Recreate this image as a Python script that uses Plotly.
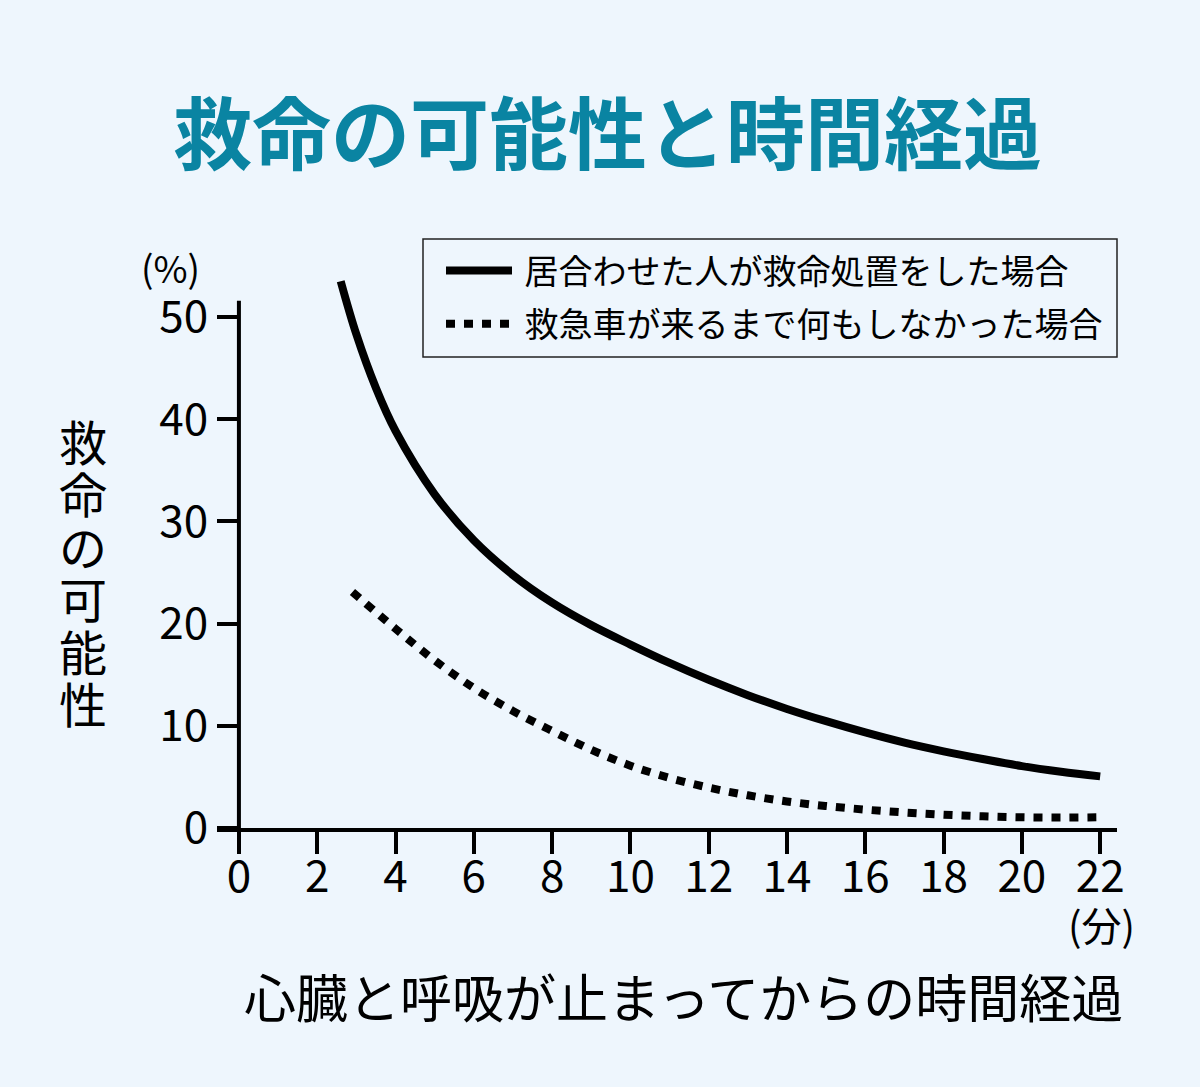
import plotly.graph_objects as go

# 心肺停止からの経過時間(分)と救命の可能性(%)
bystander_min = [2.6, 3, 3.5, 4, 5, 6, 7, 8, 9, 10, 11, 12, 13, 14, 15, 16, 17, 18, 19, 20, 21, 22]
bystander_pct = [53.5, 48.3, 43.05, 38.85, 32.65, 28.15, 24.75, 22.05, 19.85, 17.95, 16.15, 14.5,
                 13.0, 11.65, 10.45, 9.35, 8.35, 7.5, 6.75, 6.05, 5.5, 5.05]
nothing_min = [2.9, 4, 5, 6, 7, 8, 9, 10, 11, 12, 13, 14, 15, 16, 17, 18, 19, 20, 21, 22]
nothing_pct = [23.1, 19.5, 16.4, 13.7, 11.45, 9.5, 7.65, 6.1, 4.9, 3.95, 3.2, 2.6, 2.15, 1.8, 1.52,
               1.3, 1.15, 1.05, 1.02, 1.05]

x_ticks = list(range(0, 23, 2))
y_ticks = [0, 10, 20, 30, 40, 50]

title = "救命の可能性と時間経過"
y_title = "救命の可能性"
x_title = "心臓と呼吸が止まってからの時間経過"
names = ["居合わせた人が救命処置をした場合", "救急車が来るまで何もしなかった場合"]

JP = "Noto Sans CJK JP"
BG = "#eef6fd"

W, H = 1200, 1087
L, R, T, B = 217, 83, 271, 259
pw, ph = W - L - R, H - T - B


def px(x, y):
    # pixel position -> paper coords
    return (x - L) / pw, (H - B - y) / ph


fig = go.Figure()
fig.add_trace(go.Scatter(x=bystander_min, y=bystander_pct, mode="lines", name="\u00a0" + names[0],
                         line=dict(color="black", width=8, shape="spline"), legendgroup="a"))
fig.add_trace(go.Scatter(x=nothing_min, y=nothing_pct, mode="lines", name="\u00a0" + names[1],
                         line=dict(color="black", width=8, shape="spline", dash="9px,9px"),
                         legendgroup="b"))

xr = [-0.56, 22.43]
fig.update_xaxes(range=xr, tickvals=x_ticks, showline=True, linecolor="black", linewidth=4,
                 ticks="outside", ticklen=22, tickwidth=4, tickcolor="black", ticklabelstandoff=-15,
                 showgrid=False, zeroline=False, tickfont=dict(family=JP, size=44, color="black"))
fig.update_yaxes(range=[0, 54.5], tickvals=y_ticks, showline=False, anchor="free",
                 position=(0 - xr[0]) / (xr[1] - xr[0]),
                 ticks="outside", ticklen=22, tickwidth=4, tickcolor="black",
                 showgrid=False, zeroline=False, tickfont=dict(family=JP, size=44, color="black"))

# y軸の線は0から約51.6まで
fig.add_shape(type="line", xref="x", yref="y", x0=0, x1=0, y0=0, y1=51.6,
              line=dict(color="black", width=4))

# 凡例の枠
bx0, by0 = px(423, 239)
bx1, by1 = px(1117, 357)
fig.add_shape(type="rect", xref="paper", yref="paper", x0=bx0, x1=bx1, y0=by1, y1=by0,
              line=dict(color="#222", width=1.5))

ann = []
tx, ty = px(607, 130)
ann.append(dict(x=tx, y=ty, text="<b>" + title + "</b>", font=dict(family=JP, size=79, color="#0a84a2")))
tx, ty = px(170, 267)
ann.append(dict(x=tx, y=ty, text="(%)", font=dict(family=JP, size=37, color="black")))
tx, ty = px(1101, 924)
ann.append(dict(x=tx, y=ty, text="(分)", font=dict(family=JP, size=40, color="black")))
tx, ty = px(683, 995)
ann.append(dict(x=tx, y=ty, text=x_title, font=dict(family=JP, size=52, color="black")))
for i, ch in enumerate(y_title):
    tx, ty = px(83, 440 + 52.4 * i)
    ann.append(dict(x=tx, y=ty, text=ch, font=dict(family=JP, size=48, color="black")))
for a in ann:
    a.update(xref="paper", yref="paper", showarrow=False, xanchor="center", yanchor="middle")

lx, ly = px(441, 242)
fig.update_layout(
    width=W, height=H, margin=dict(l=L, r=R, t=T, b=B),
    paper_bgcolor=BG, plot_bgcolor=BG,
    annotations=ann,
    showlegend=True,
    legend=dict(x=lx, y=ly, xanchor="left", yanchor="top", bgcolor="rgba(0,0,0,0)",
                borderwidth=0, itemwidth=66, tracegroupgap=6,
                font=dict(family=JP, size=34, color="black")),
)

fig.write_html("out.html", config={"displayModeBar": False},
               post_script="document.body.style.margin='0';")
